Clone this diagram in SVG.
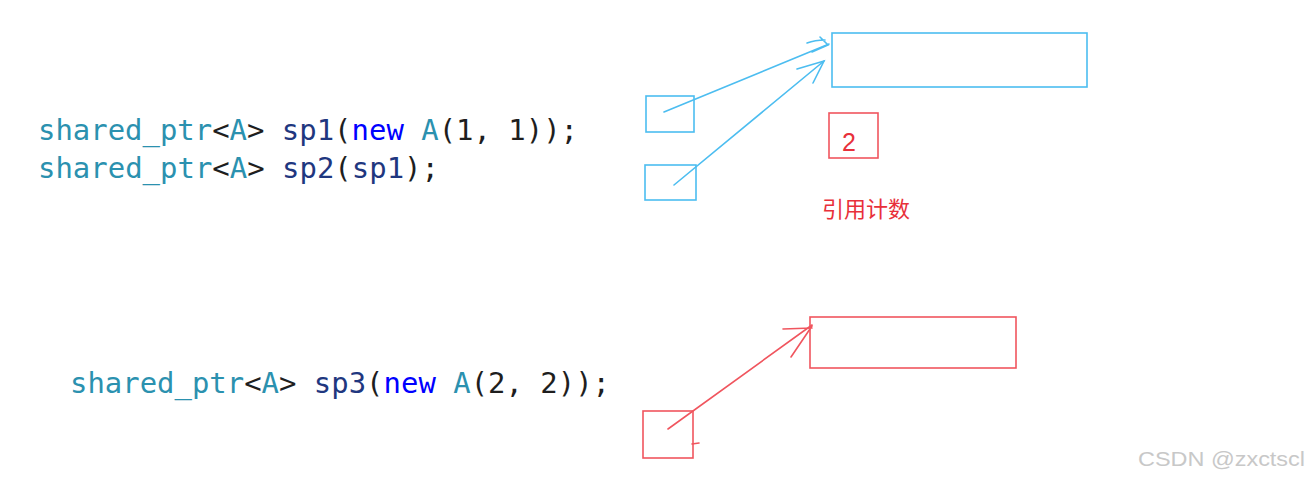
<svg xmlns="http://www.w3.org/2000/svg" width="1309" height="480" viewBox="0 0 1309 480">
<style>
.code{font-family:"DejaVu Sans Mono","Liberation Mono",monospace;font-size:28px}
.ty{fill:#2b91af}.pl{fill:#1e1e1e}.var{fill:#1f377f}.kw{fill:#0000ff}
.blue{fill:none;stroke:#4cbdf0;stroke-width:1.6;stroke-linecap:round}
.red{fill:none;stroke:#f0555e;stroke-width:1.6;stroke-linecap:round}
</style>
<rect width="1309" height="480" fill="#fff"/>
<g id="code">
<text class="code" x="38" y="140" textLength="540" lengthAdjust="spacingAndGlyphs"><tspan class="ty">shared_ptr</tspan><tspan class="pl">&lt;</tspan><tspan class="ty">A</tspan><tspan class="pl">&gt; </tspan><tspan class="var">sp1</tspan><tspan class="pl">(</tspan><tspan class="kw">new</tspan><tspan class="pl"> </tspan><tspan class="ty">A</tspan><tspan class="pl">(1, 1));</tspan></text>
<text class="code" x="38" y="178" textLength="401" lengthAdjust="spacingAndGlyphs"><tspan class="ty">shared_ptr</tspan><tspan class="pl">&lt;</tspan><tspan class="ty">A</tspan><tspan class="pl">&gt; </tspan><tspan class="var">sp2</tspan><tspan class="pl">(</tspan><tspan class="var">sp1</tspan><tspan class="pl">);</tspan></text>
<text class="code" x="70" y="393" textLength="540" lengthAdjust="spacingAndGlyphs"><tspan class="ty">shared_ptr</tspan><tspan class="pl">&lt;</tspan><tspan class="ty">A</tspan><tspan class="pl">&gt; </tspan><tspan class="var">sp3</tspan><tspan class="pl">(</tspan><tspan class="kw">new</tspan><tspan class="pl"> </tspan><tspan class="ty">A</tspan><tspan class="pl">(2, 2));</tspan></text>
</g>
<g id="obj1"><rect class="blue" x="832" y="33" width="255" height="54"/></g>
<g id="sp1box"><rect class="blue" x="646" y="96" width="48" height="36"/></g>
<g id="sp2box"><rect class="blue" x="645" y="165" width="51" height="35"/></g>
<g id="count"><rect class="red" x="829" y="113" width="49" height="45"/>
<text x="849" y="151" font-family="Liberation Sans, Arial, sans-serif" font-size="25" fill="#e8303a" text-anchor="middle">2</text></g>
<g id="countlabel"><text x="822" y="217" font-family="Noto Sans CJK SC, sans-serif" font-size="22" fill="#e8303a">引用计数</text></g>
<g id="obj2"><rect class="red" x="810" y="317" width="206" height="51"/></g>
<g id="sp3box"><rect class="red" x="643" y="411" width="50" height="47"/></g>
<g id="connectors">
<path class="blue" d="M664 112 L829 44"/>
<path class="blue" d="M807 43 Q815 40 825 40 M820 37 L828 45 L812 52"/>
<path class="blue" d="M674 185 L824 61"/>
<path class="blue" d="M797 69 L824 61 L813 83"/>
<path class="red" d="M668 429 L812 325"/>
<path class="red" d="M783 329 L812 328 M791 357 L812 326"/>
<path class="red" d="M692 444 L699 443"/>
</g>
<text x="1138" y="466" font-family="Liberation Sans, Arial, sans-serif" font-size="21" fill="#c8c8c8" textLength="167" lengthAdjust="spacingAndGlyphs">CSDN @zxctscl</text>
</svg>
